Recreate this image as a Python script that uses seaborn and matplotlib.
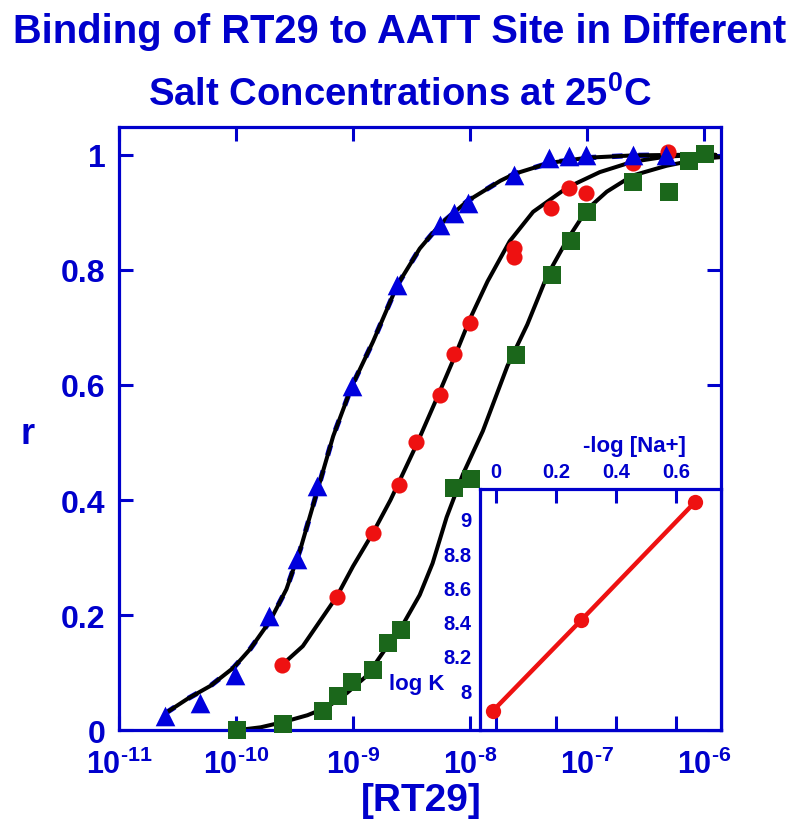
import numpy as np
import pandas as pd
import matplotlib
matplotlib.use('Agg')
import matplotlib.pyplot as plt
import seaborn as sns

# values: log10 [RT29] (M) and fractional saturation r
blue_logc = [-10.61, -10.31, -10.01, -9.72, -9.48, -9.31, -9.01, -8.62, -8.26, -8.14,
             -8.02, -7.62, -7.32, -7.15, -7.01, -6.61, -6.32]
blue_r = [0.024, 0.047, 0.096, 0.198, 0.297, 0.424, 0.598, 0.774, 0.878, 0.899,
          0.917, 0.965, 0.995, 0.998, 1.0, 1.0, 1.0]

red_logc = [-9.61, -9.14, -8.83, -8.61, -8.46, -8.26, -8.14, -8.00, -7.62, -7.62,
            -7.31, -7.15, -7.01, -6.61, -6.31]
red_r = [0.113, 0.232, 0.343, 0.426, 0.501, 0.583, 0.654, 0.708, 0.822, 0.838,
         0.908, 0.943, 0.934, 0.986, 1.005]

green_logc = [-9.99, -9.60, -9.26, -9.13, -9.01, -8.83, -8.70, -8.59, -8.14, -7.99,
              -7.61, -7.30, -7.14, -7.00, -6.61, -6.30, -6.13, -5.99]
green_r = [0.0, 0.010, 0.033, 0.059, 0.083, 0.104, 0.151, 0.174, 0.421, 0.437,
           0.652, 0.791, 0.850, 0.901, 0.953, 0.935, 0.990, 1.002]

# fitted curves
fit_blue_logc = [-10.60, -10.42, -10.22, -10.02, -9.88, -9.71, -9.57, -9.45, -9.34,
                 -9.17, -9.01, -8.83, -8.62, -8.43, -8.26, -8.02, -7.74, -7.62, -7.32,
                 -7.00, -6.61, -6.23, -5.90]
fit_blue_r = [0.030, 0.054, 0.077, 0.109, 0.141, 0.190, 0.245, 0.315, 0.392,
              0.511, 0.598, 0.675, 0.774, 0.837, 0.878, 0.920, 0.955, 0.967, 0.986,
              0.995, 0.999, 1.0, 1.0]

fit_red_logc = [-9.61, -9.43, -9.14, -9.00, -8.83, -8.68, -8.46, -8.26, -8.14, -8.00,
                -7.85, -7.66, -7.46, -7.17, -6.89, -6.61, -6.32, -6.03, -5.90]
fit_red_r = [0.113, 0.146, 0.232, 0.285, 0.343, 0.400, 0.495, 0.588, 0.645, 0.715,
             0.780, 0.850, 0.901, 0.943, 0.970, 0.988, 0.997, 1.0, 1.0]

fit_green_logc = [-9.99, -9.79, -9.60, -9.39, -9.22, -9.05, -8.88, -8.71, -8.57, -8.43,
                  -8.32, -8.20, -8.06, -7.89, -7.68, -7.51, -7.34, -7.17, -7.00, -6.83,
                  -6.61, -6.32, -6.03, -5.86]
fit_green_r = [0.0, 0.005, 0.014, 0.026, 0.040, 0.065, 0.095, 0.145, 0.185, 0.235,
               0.290, 0.370, 0.445, 0.520, 0.633, 0.705, 0.790, 0.852, 0.905, 0.936,
               0.964, 0.981, 0.993, 0.996]

# inset: log K against -log [Na+]
inset_neglog_na = [-0.01, 0.285, 0.665]
inset_logk = [7.88, 8.41, 9.10]

x_ticks = [1e-11, 1e-10, 1e-9, 1e-8, 1e-7, 1e-6]
x_ticklabels = [r'$10^{\text{-11}}$', r'$10^{\text{-10}}$', r'$10^{\text{-9}}$',
                r'$10^{\text{-8}}$', r'$10^{\text{-7}}$', r'$10^{\text{-6}}$']
y_ticks = [0, 0.2, 0.4, 0.6, 0.8, 1.0]
y_ticklabels = ['0', '0.2', '0.4', '0.6', '0.8', '1']
in_x_ticks = [0, 0.2, 0.4, 0.6]
in_x_ticklabels = ['0', '0.2', '0.4', '0.6']
in_y_ticks = [8, 8.2, 8.4, 8.6, 8.8, 9]
in_y_ticklabels = ['8', '8.2', '8.4', '8.6', '8.8', '9']

TXT = '#0000CC'
C_BLUE = '#0000DD'
C_RED = '#EE1111'
C_GREEN = '#1B671B'

sns.set_style('ticks')
plt.rcParams['font.family'] = ['Liberation Sans', 'DejaVu Sans']
plt.rcParams['font.weight'] = 'bold'
plt.rcParams['mathtext.fontset'] = 'custom'
plt.rcParams['mathtext.rm'] = 'Liberation Sans:bold'
plt.rcParams['mathtext.bf'] = 'Liberation Sans:bold'
plt.rcParams['mathtext.it'] = 'Liberation Sans:bold'
plt.rcParams['mathtext.default'] = 'rm'


def conc(logs):
    return 10.0 ** np.array(logs)


fig = plt.figure(figsize=(8, 8.29), dpi=100)
ax = fig.add_axes([0.149, 0.118, 0.752, 0.728])
ax.set_xscale('log')

# fitted curves
sns.lineplot(x=conc(fit_blue_logc), y=fit_blue_r, sort=False, estimator=None, ax=ax,
             color=C_BLUE, lw=3.8, linestyle=(0, (2, 3)))
for lc, rr in [(fit_blue_logc, fit_blue_r), (fit_red_logc, fit_red_r),
               (fit_green_logc, fit_green_r)]:
    sns.lineplot(x=conc(lc), y=rr, sort=False, estimator=None, ax=ax,
                 color='black', lw=2.9)

# data points
sns.scatterplot(x=conc(red_logc), y=red_r, ax=ax, marker='o', s=135, color=C_RED,
                linewidth=0, clip_on=False, zorder=5)
sns.scatterplot(x=conc(green_logc), y=green_r, ax=ax, marker='s', s=170, color=C_GREEN,
                linewidth=0, clip_on=False, zorder=5)
sns.scatterplot(x=conc(blue_logc), y=blue_r, ax=ax, marker='^', s=200, color=C_BLUE,
                linewidth=0, clip_on=False, zorder=6)

ax.set_xlim(1e-11, 10 ** -5.855)
ax.set_ylim(0, 1.049)
ax.set_xticks(x_ticks)
ax.set_xticklabels(x_ticklabels)
ax.xaxis.set_minor_locator(matplotlib.ticker.NullLocator())
ax.set_yticks(y_ticks)
ax.set_yticklabels(y_ticklabels)
ax.tick_params(direction='in', length=10, width=2.2, colors=TXT, top=True, right=True)
ax.tick_params(axis='x', labelsize=22, pad=13)
ax.tick_params(axis='y', labelsize=23, pad=10)
for sp in ax.spines.values():
    sp.set_color(TXT)
    sp.set_linewidth(2.3)
ax.set_xlabel('')
ax.set_ylabel('')

# inset
axi = fig.add_axes([0.6, 0.118, 0.301, 0.291])
axi.set_facecolor('white')
sns.lineplot(x=inset_neglog_na, y=inset_logk, ax=axi, color=C_RED, lw=3.2, marker='o',
             markersize=11, markeredgewidth=0, clip_on=False)
axi.set_xlim(-0.053, 0.75)
axi.set_ylim(7.767, 9.175)
axi.set_xticks(in_x_ticks)
axi.set_xticklabels(in_x_ticklabels)
axi.set_yticks(in_y_ticks)
axi.set_yticklabels(in_y_ticklabels)
axi.tick_params(axis='x', direction='in', length=10, width=2.2, colors=TXT, top=True,
                bottom=True, labeltop=True, labelbottom=False, labelsize=14.5, pad=6)
axi.tick_params(axis='y', length=0, colors=TXT, labelsize=14.5, pad=6)
for sp in axi.spines.values():
    sp.set_color(TXT)
    sp.set_linewidth(2.3)
axi.set_xlabel('')
axi.set_ylabel('')

# texts
fig.text(0.5, 1 - 32 / 829, 'Binding of RT29 to AATT Site in Different', ha='center',
         va='center', fontsize=28.7, weight='bold', color=TXT)
fig.text(0.5, 1 - 95 / 829, r'Salt Concentrations at 25$^{0}$C', ha='center',
         va='center', fontsize=27.5, weight='bold', color=TXT)
fig.text(28 / 800, 1 - 435 / 829, 'r', ha='center', va='center', fontsize=26,
         weight='bold', color=TXT)
fig.text(421 / 800, 1 - 801 / 829, '[RT29]', ha='center', va='center', fontsize=28,
         weight='bold', color=TXT)
fig.text(634 / 800, 1 - 447 / 829, '-log [Na+]', ha='center', va='center', fontsize=16,
         weight='bold', color=TXT)
fig.text(417 / 800, 1 - 685 / 829, 'log K', ha='center', va='center', fontsize=16,
         weight='bold', color=TXT)

fig.savefig('out.png', dpi=100)
